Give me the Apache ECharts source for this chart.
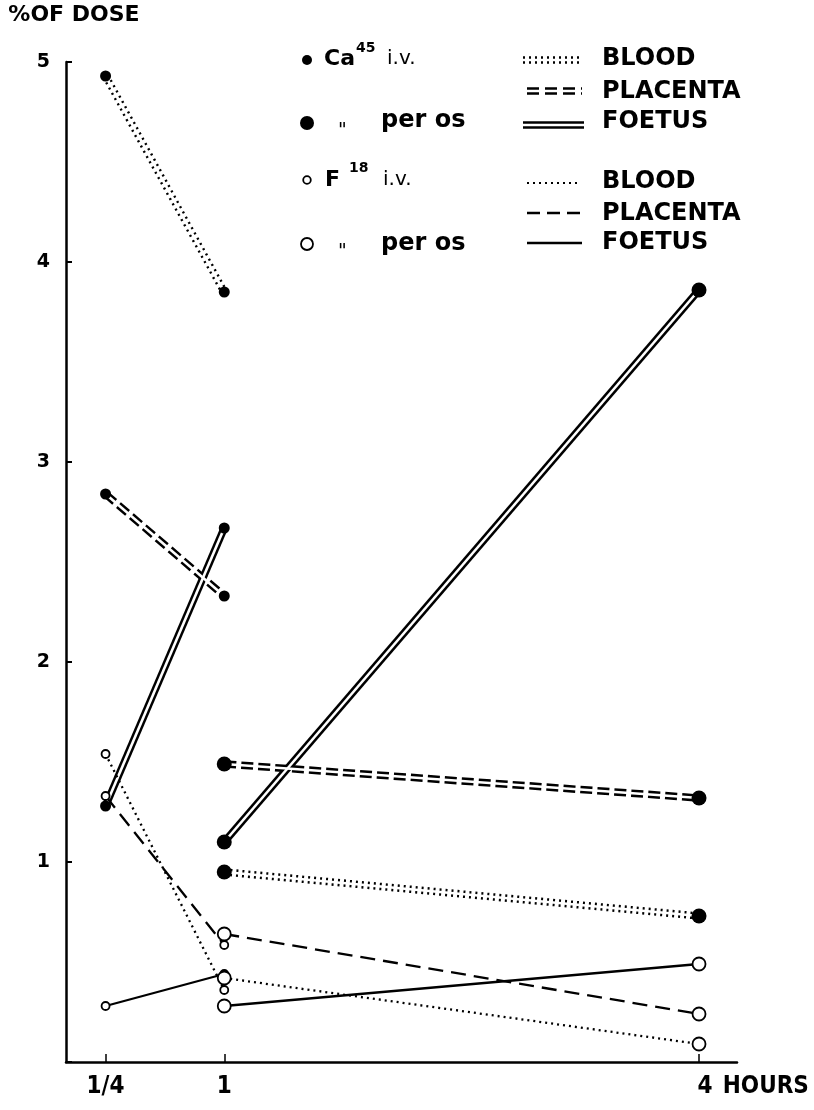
<!DOCTYPE html>
<html><head><meta charset="utf-8">
<script src="https://cdn.jsdelivr.net/npm/echarts@6/dist/echarts.min.js"></script>
<style>html,body{margin:0;padding:0;background:#fff}#c{width:814px;height:1110px}</style>
</head><body><div id="c"></div>
<script>
// ---- data ----
const hoursIv = [0.25, 1];
const hoursOs = [1, 4];
const xTickValues = [0.25, 1, 4];
const xTickLabels = ['1/4', '1', '4 HOURS'];
const yTickValues = [1, 2, 3, 4, 5];

// Ca45 i.v. (1/4 h, 1 h)
const caIvBlood = [4.93, 3.85];
const caIvPlacenta = [2.84, 2.33];
const caIvFoetus = [1.28, 2.67];
// Ca45 per os (1 h, 4 h)
const caOsBlood = [0.95, 0.73];
const caOsPlacenta = [1.49, 1.32];
const caOsFoetus = [1.10, 3.86];
// F18 i.v. (1/4 h, 1 h)
const fIvBlood = [1.54, 0.36];
const fIvPlacenta = [1.33, 0.585];
const fIvFoetus = [0.28, 0.44];
// F18 per os (1 h, 4 h)
const fOsBlood = [0.42, 0.09];
const fOsPlacenta = [0.64, 0.24];
const fOsFoetus = [0.28, 0.49];

// ---- build ----
const FONT = 'DejaVu Sans';
const pts = (xs, ys) => xs.map((x, i) => [x, ys[i]]);
const DOT = [2, 4], DASH2 = [12, 5], DASH1 = [15, 8];

function doubleLine(name, xs, ys, dash, size) {
  const data = pts(xs, ys);
  return [
    { type: 'line', name: name, data: data, symbol: 'none', silent: true, z: 2,
      lineStyle: { color: '#000', width: 7.5, type: dash } },
    { type: 'line', name: name, data: data, symbol: 'circle', symbolSize: size, z: 3,
      itemStyle: { color: '#000', borderWidth: 0 },
      lineStyle: { color: '#fff', width: 2.6, type: 'solid' } }
  ];
}
function singleLine(name, xs, ys, dash, size) {
  return { type: 'line', name: name, data: pts(xs, ys), symbol: 'circle', symbolSize: size, z: 4,
    itemStyle: { color: '#fff', borderColor: '#000', borderWidth: 1.8 },
    lineStyle: { color: '#000', width: 2.3, type: dash } };
}

const series = [].concat(
  doubleLine('Ca45 i.v. BLOOD', hoursIv, caIvBlood, DOT, 11),
  doubleLine('Ca45 i.v. PLACENTA', hoursIv, caIvPlacenta, DASH2, 11),
  doubleLine('Ca45 i.v. FOETUS', hoursIv, caIvFoetus, 'solid', 11),
  doubleLine('Ca45 per os BLOOD', hoursOs, caOsBlood, DOT, 15),
  doubleLine('Ca45 per os PLACENTA', hoursOs, caOsPlacenta, DASH2, 15),
  doubleLine('Ca45 per os FOETUS', hoursOs, caOsFoetus, 'solid', 15),
  [
    singleLine('F18 i.v. BLOOD', hoursIv, fIvBlood, DOT, 8),
    singleLine('F18 i.v. PLACENTA', hoursIv, fIvPlacenta, DASH1, 8),
    singleLine('F18 i.v. FOETUS', hoursIv, fIvFoetus, 'solid', 8),
    singleLine('F18 per os BLOOD', hoursOs, fOsBlood, DOT, 13),
    singleLine('F18 per os PLACENTA', hoursOs, fOsPlacenta, DASH1, 13),
    singleLine('F18 per os FOETUS', hoursOs, fOsFoetus, 'solid', 13)
  ]
);

// ---- legend (drawn as graphics) ----
const txt = (x, y, text, size, weight) => ({ type: 'text', x: x, y: y,
  style: { text: text, fontSize: size, fontFamily: FONT, fontWeight: weight || 'bold', fill: '#000', align: 'left', verticalAlign: 'middle' } });
const ln = (x1, x2, y, w, dash, color) => ({ type: 'line', shape: { x1: x1, y1: y, x2: x2, y2: y },
  style: { stroke: color || '#000', lineWidth: w, lineDash: dash || null } });
const circ = (cx, cy, r, filled) => ({ type: 'circle', shape: { cx: cx, cy: cy, r: r },
  style: filled ? { fill: '#000' } : { fill: '#fff', stroke: '#000', lineWidth: 1.8 } });

const graphic = [
  circ(307, 60, 5, true), txt(324, 59, 'Ca', 22), txt(356, 48, '45', 14), txt(387, 59, 'i.v.', 20, 'normal'),
  circ(307, 123, 7, true), txt(338, 131, '"', 19, 'normal'), txt(381, 121, 'per os', 24),
  circ(307, 180, 3.8, false), txt(325, 180, 'F', 22), txt(349, 168, '18', 14), txt(383, 180, 'i.v.', 20, 'normal'),
  circ(307, 244, 6, false), txt(338, 252, '"', 19, 'normal'), txt(381, 244, 'per os', 24),

  ln(523, 582, 60, 7.5, DOT), ln(523, 582, 60, 2.6, null, '#fff'),
  ln(527, 582, 91, 7.5, [12, 6]), ln(527, 582, 91, 2.6, null, '#fff'),
  ln(523, 584, 125, 7.5, null), ln(523, 584, 125, 2.6, null, '#fff'),
  ln(527, 580, 183, 2, DOT),
  ln(527, 580, 213, 2.3, [13, 7]),
  ln(527, 582, 243, 2.5, null),

  txt(602, 59, 'BLOOD', 24), txt(602, 92, 'PLACENTA', 24), txt(602, 122, 'FOETUS', 24),
  txt(602, 182, 'BLOOD', 24), txt(602, 214, 'PLACENTA', 24), txt(602, 243, 'FOETUS', 24)
];

const chart = echarts.init(document.getElementById('c'), null, { renderer: 'canvas' });
chart.setOption({
  animation: false,
  backgroundColor: '#fff',
  grid: { left: 66, right: 77, top: 62, bottom: 48, containLabel: false },
  xAxis: {
    type: 'value', min: 0, max: 4.24,
    splitLine: { show: false },
    axisLine: { show: true, onZero: false, lineStyle: { color: '#000', width: 2.5 } },
    axisTick: { show: true, inside: true, length: 8, customValues: xTickValues, lineStyle: { color: '#000', width: 1.5 } },
    axisLabel: {
      customValues: xTickValues, margin: 13, color: '#000',
      fontFamily: 'DejaVu Sans Condensed', fontWeight: 'bold', fontSize: 24,
      formatter: function (v) {
        const i = xTickValues.indexOf(v);
        const lab = i >= 0 ? xTickLabels[i] : '';
        const sp = lab.indexOf(' ');
        if (sp < 0) return lab;
        return '{p| }{n|' + lab.slice(0, sp) + '}{h|' + lab.slice(sp) + '}';
      },
      rich: {
        p: { width: 104, fontSize: 24, fontFamily: 'DejaVu Sans Condensed', fontWeight: 'bold', color: '#000' },
        n: { width: 22, align: 'center', fontSize: 24, fontFamily: 'DejaVu Sans Condensed', fontWeight: 'bold', color: '#000' },
        h: { width: 92, align: 'left', fontSize: 24, fontFamily: 'DejaVu Sans Condensed', fontWeight: 'bold', color: '#000' }
      }
    }
  },
  yAxis: {
    type: 'value', min: 0, max: 5, interval: 1,
    name: '%OF DOSE', nameLocation: 'end', nameGap: 36,
    nameTextStyle: { color: '#000', fontFamily: FONT, fontWeight: 'bold', fontSize: 22, padding: [0, 0, 0, 16] },
    splitLine: { show: false },
    axisLine: { show: true, onZero: false, lineStyle: { color: '#000', width: 2.5 } },
    axisTick: { show: true, inside: true, length: 6, lineStyle: { color: '#000', width: 2 } },
    axisLabel: {
      margin: 16, color: '#000', fontFamily: FONT, fontWeight: 'bold', fontSize: 19,
      formatter: function (v) { return yTickValues.indexOf(v) >= 0 ? String(v) : ''; }
    }
  },
  graphic: graphic,
  series: series
});
</script></body></html>
